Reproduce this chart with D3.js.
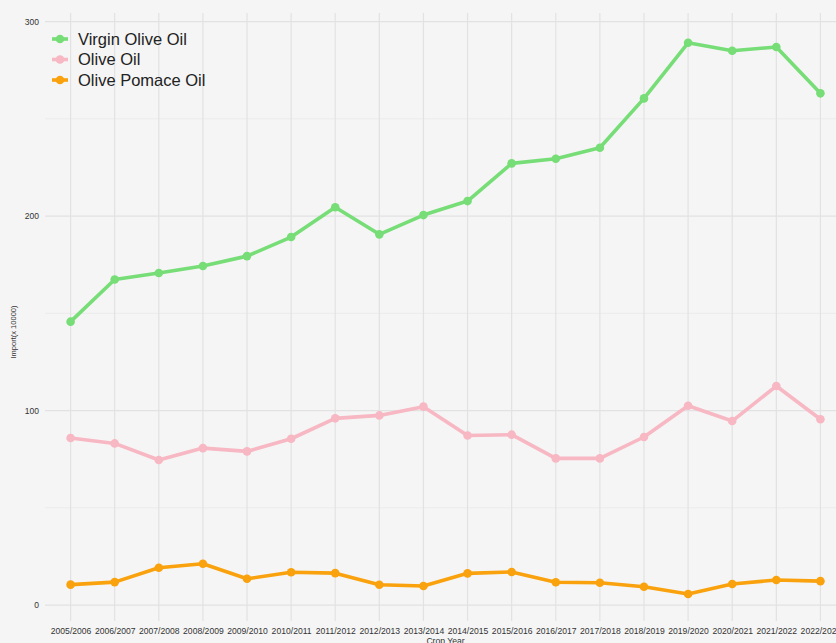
<!DOCTYPE html>
<html><head><meta charset="utf-8">
<script src="https://cdn.jsdelivr.net/npm/d3@7"></script>
<style>
html,body{margin:0;padding:0;background:#f5f5f5;}
svg{display:block;font-family:"Liberation Sans",Arial,Helvetica,sans-serif;}
</style></head>
<body>
<svg id="chart" width="836" height="643"></svg>
<script>
const years = ["2005/2006","2006/2007","2007/2008","2008/2009","2009/2010","2010/2011","2011/2012","2012/2013","2013/2014","2014/2015","2015/2016","2016/2017","2017/2018","2018/2019","2019/2020","2020/2021","2021/2022","2022/2023"];
const virginOliveOil = [145.7,167.4,170.7,174.3,179.4,189.2,204.5,190.6,200.5,207.7,227.1,229.5,235.1,260.5,289.1,285.0,286.9,263.1];
const oliveOil = [85.9,83.1,74.6,80.7,79.0,85.5,96.0,97.5,102.0,87.2,87.6,75.4,75.4,86.4,102.5,94.6,112.6,95.5];
const olivePomaceOil = [10.5,11.8,19.2,21.2,13.5,16.9,16.4,10.4,9.8,16.3,17.0,11.7,11.5,9.4,5.7,10.8,12.9,12.3];
const seriesNames = ["Virgin Olive Oil","Olive Oil","Olive Pomace Oil"];
const seriesColors = ["#77dd77","#f7b7c3","#f9a20d"];
const yMajorTicks = [0,100,200,300];
const yMinorTicks = [50,150,250];
const yTitle = "Import(x 10000)";
const xTitle = "Crop Year";

const svg = d3.select("#chart");
const plot = {left:45, right:846, top:13, bottom:621};

const x = d3.scalePoint().domain(years).range([plot.left, plot.right]).padding(0.58);
const y = d3.scaleLinear().domain([-8.2, 304.4]).range([plot.bottom, plot.top]);

// grid
const g = svg.append("g");
g.selectAll(".ymin").data(yMinorTicks).join("line")
  .attr("x1", plot.left).attr("x2", plot.right)
  .attr("y1", d=>y(d)).attr("y2", d=>y(d))
  .attr("stroke", "#ebebeb").attr("stroke-width", 1);
g.selectAll(".ymaj").data(yMajorTicks).join("line")
  .attr("x1", plot.left).attr("x2", plot.right)
  .attr("y1", d=>y(d)).attr("y2", d=>y(d))
  .attr("stroke", "#e2e2e2").attr("stroke-width", 1.2);
g.selectAll(".xg").data(years).join("line")
  .attr("x1", d=>x(d)).attr("x2", d=>x(d))
  .attr("y1", plot.top).attr("y2", plot.bottom)
  .attr("stroke", "#e2e2e2").attr("stroke-width", 1.2);

// axes
const yAxis = d3.axisLeft(y).tickValues(yMajorTicks).tickSize(0).tickPadding(6);
const ya = svg.append("g").attr("transform", `translate(${plot.left},0)`).call(yAxis);
ya.select(".domain").remove();
ya.selectAll("text").attr("font-size", "8.5px").attr("fill", "#333").attr("font-family", "Liberation Sans, Arial, sans-serif");

const xAxis = d3.axisBottom(x).tickSize(0).tickPadding(7);
const xa = svg.append("g").attr("transform", `translate(0,${plot.bottom})`).call(xAxis);
xa.select(".domain").remove();
xa.selectAll("text").attr("font-size", "8.6px").attr("fill", "#333").attr("font-family", "Liberation Sans, Arial, sans-serif");

svg.append("text").attr("x", (plot.left+plot.right)/2).attr("y", 644)
  .attr("text-anchor", "middle").attr("font-size", "8.6px").attr("fill", "#333").text(xTitle);
svg.append("text").attr("transform", "translate(16,332) rotate(-90)")
  .attr("text-anchor", "middle").attr("font-size", "7.5px").attr("fill", "#333").text(yTitle);

// series
const allSeries = [virginOliveOil, oliveOil, olivePomaceOil];
const line = d3.line().x((d,i)=>x(years[i])).y(d=>y(d));
allSeries.forEach((vals, k) => {
  const sg = svg.append("g");
  sg.append("path").datum(vals).attr("d", line)
    .attr("fill", "none").attr("stroke", seriesColors[k]).attr("stroke-width", 3.6)
    .attr("stroke-linejoin", "round");
  sg.selectAll("circle").data(vals).join("circle")
    .attr("cx", (d,i)=>x(years[i])).attr("cy", d=>y(d)).attr("r", 4.3)
    .attr("fill", seriesColors[k]);
});

// legend
const lg = svg.append("g");
seriesNames.forEach((name, k) => {
  const cy = 39 + k*20.5;
  lg.append("line").attr("x1", 52).attr("x2", 68).attr("y1", cy).attr("y2", cy)
    .attr("stroke", seriesColors[k]).attr("stroke-width", 3.6);
  lg.append("circle").attr("cx", 60).attr("cy", cy).attr("r", 4.3).attr("fill", seriesColors[k]);
  lg.append("text").attr("x", 78).attr("y", cy).attr("dy", "0.36em")
    .attr("font-size", "16.5px").attr("fill", "#222").text(name);
});
</script>
</body></html>
